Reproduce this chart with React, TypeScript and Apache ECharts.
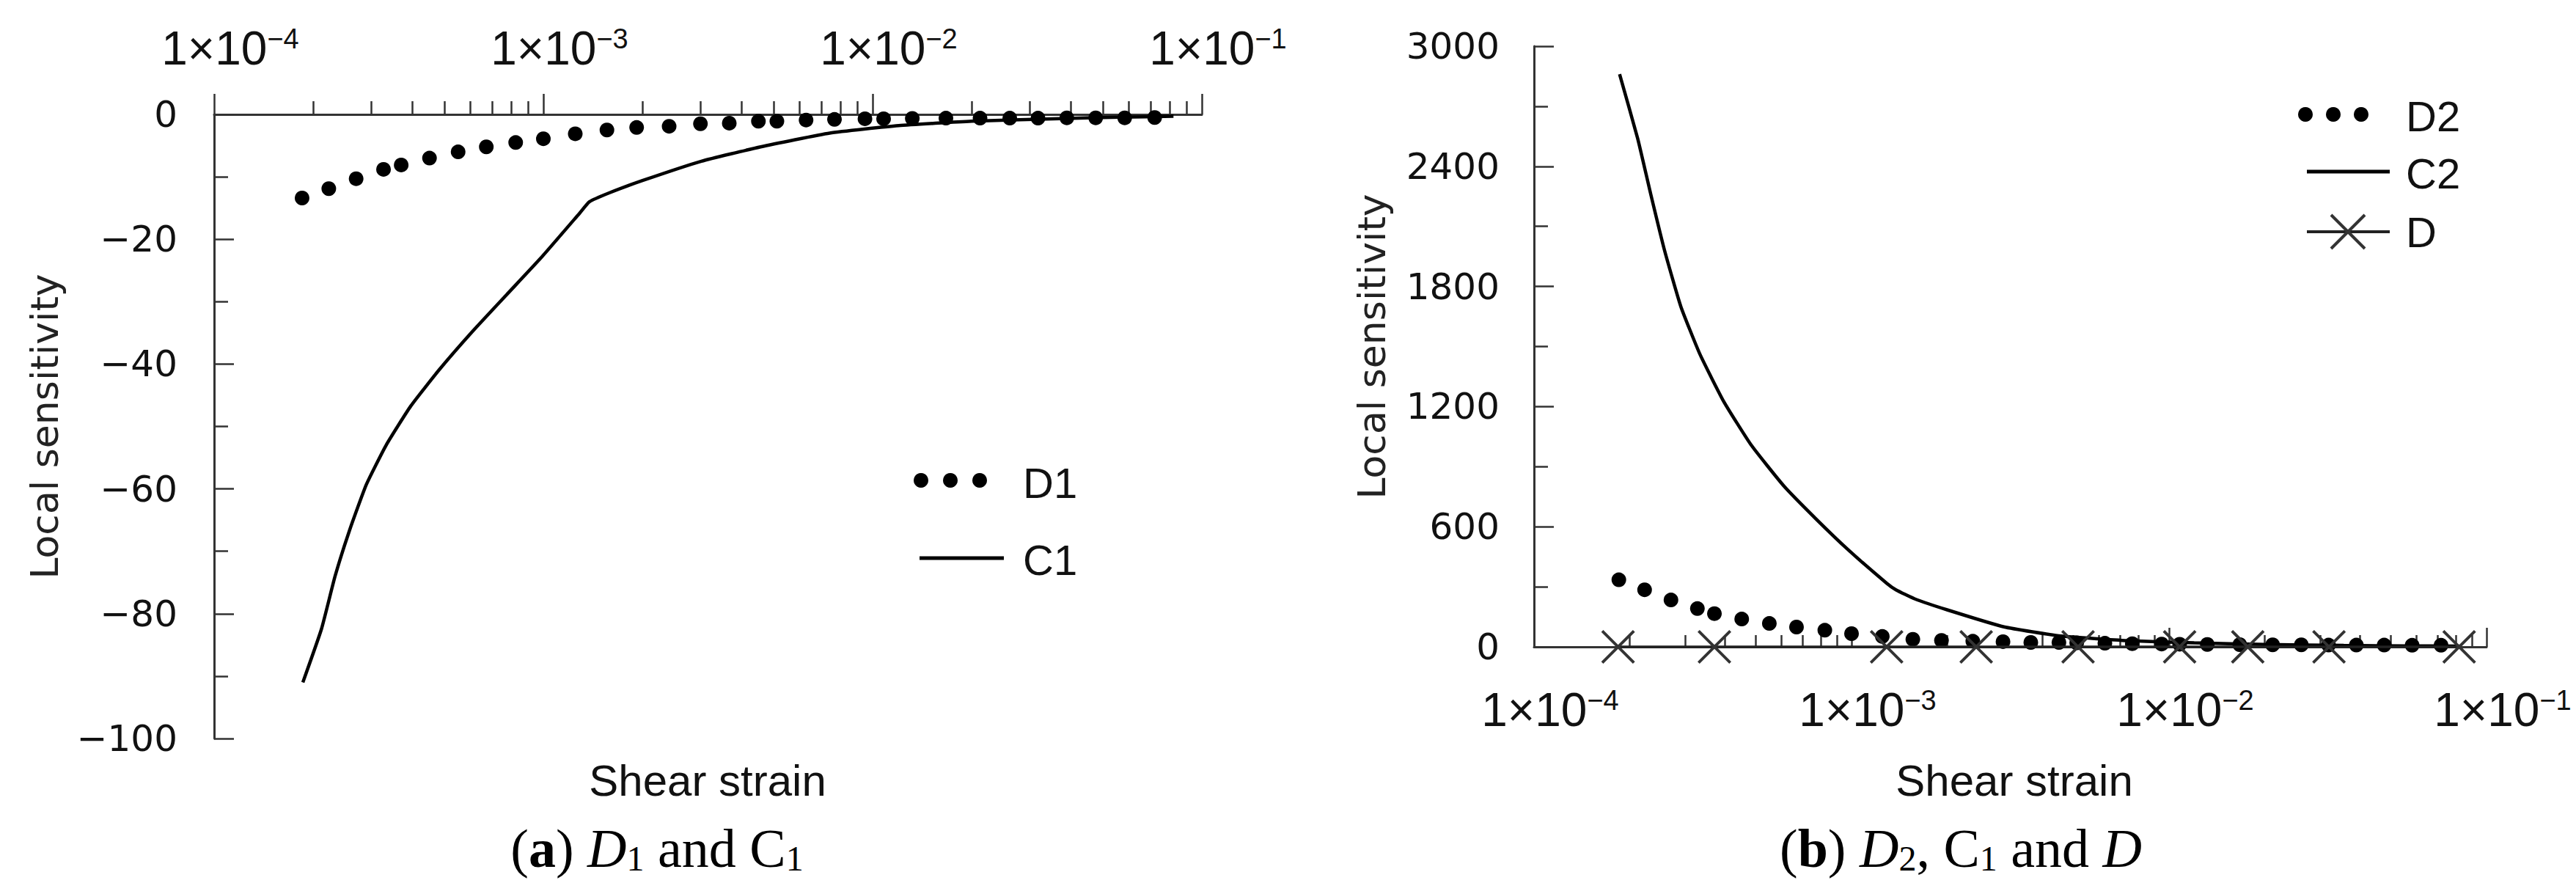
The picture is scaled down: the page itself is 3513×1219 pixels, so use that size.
import React, { useEffect, useRef } from "react";
import * as echarts from "echarts";

// shear strain of the sampled points (dots, same for D1 and D2)
const strainPoints = [
    1.85e-4, 2.23e-4, 2.7e-4, 3.27e-4, 3.7e-4, 4.51e-4, 5.51e-4, 6.71e-4, 8.24e-4, 1.0e-3,
    1.25e-3, 1.56e-3, 1.92e-3, 2.41e-3, 3.0e-3, 3.67e-3, 4.5e-3, 5.12e-3, 6.28e-3, 7.66e-3,
    9.48e-3, 1.08e-2, 1.32e-2, 1.67e-2, 2.12e-2, 2.61e-2, 3.18e-2, 3.89e-2, 4.76e-2, 5.83e-2,
    7.19e-2,
];
const d1Values = [
    -13.4, -11.9, -10.3, -8.8, -8.1, -7.0, -6.0, -5.2, -4.5, -3.9,
    -3.1, -2.5, -2.1, -1.9, -1.5, -1.4, -1.1, -1.1, -0.9, -0.8,
    -0.7, -0.7, -0.65, -0.6, -0.6, -0.6, -0.6, -0.55, -0.55, -0.55,
    -0.5,
];
const d2Values = [
    335, 285, 234, 191, 166, 139, 117, 99, 83, 66,
    52, 38, 32, 28, 26, 22, 22, 20, 18, 16,
    14, 13, 12, 11, 10, 10, 9, 9, 9, 8,
    8,
];

// shear strain along the solid curves
const lineStrain = [
    1.86e-4, 2.12e-4, 2.33e-4, 2.58e-4, 2.9e-4, 3.33e-4, 3.96e-4, 4.83e-4, 6.11e-4, 7.73e-4,
    9.79e-4, 1.29e-3, 1.38e-3, 1.58e-3, 2.0e-3, 3.02e-3, 4.57e-3, 7.41e-3, 1.2e-2, 2.0e-2,
    3.55e-2, 5.62e-2, 8.2e-2,
];
const c1Values = [
    -91.0, -82.4, -74.0, -66.6, -59.3, -53.0, -46.7, -40.9, -34.7, -28.9,
    -23.1, -15.8, -14.0, -12.6, -10.6, -7.5, -5.2, -3.0, -1.8, -1.1,
    -0.7, -0.45, -0.3,
];
const c2Values = [
    2860, 2540, 2263, 1977, 1700, 1462, 1225, 1008, 805, 639,
    483, 318, 285, 240, 185, 100, 54, 31, 20, 12,
    7, 5, 4,
];

// D (marked with crosses)
const dStrain = [1.84e-4, 3.7e-4, 1.29e-3, 2.47e-3, 5.17e-3, 1.08e-2, 1.77e-2, 3.19e-2, 8.2e-2];
const dValues = [0, 0, 0, 0, 0, 0, 0, 0, 0];

// axis ticks
const decades = [1e-4, 1e-3, 1e-2, 1e-1];
const minorSteps = [2, 3, 4, 5, 6, 7, 8, 9];
const leftYTicks = { min: -100, max: 0, interval: 20 };
const rightYTicks = { min: 0, max: 3000, interval: 600 };

const INK = "#111";
const AXIS = "#333";
const MINUS = "\u2212";
const X_SYMBOL =
    "path://M0,6L6,0L50,44L94,0L100,6L56,50L100,94L94,100L50,56L6,100L0,94L44,50Z";

const zip = (xs: number[], ys: number[]) => xs.map((x, i) => [x, ys[i]]);

const minorTicks: number[] = [];
decades.slice(0, -1).forEach((d) => minorSteps.forEach((m) => minorTicks.push(m * d)));

const expLabel = (v: number) =>
    `{pad| }1×10{sup|${MINUS}${Math.round(-Math.log10(v))}}`;
const signed = (v: number) => (v < 0 ? MINUS + Math.abs(v) : String(v));

const xLabel = (margin: number) => ({
    show: true,
    margin,
    formatter: expLabel,
    color: INK,
    fontFamily: "Liberation Sans",
    fontSize: 64,
    lineHeight: 64,
    rich: {
        pad: { width: 44, fontSize: 38, lineHeight: 38 },
        sup: {
            fontFamily: "Liberation Sans",
            fontSize: 38,
            lineHeight: 38,
            verticalAlign: "top",
            color: INK,
        },
    },
});

const majorX = (gridIndex: number, position: string, inside: boolean, len: number, margin: number) => ({
    type: "log",
    gridIndex,
    position,
    logBase: 10,
    min: decades[0],
    max: decades[decades.length - 1],
    axisLine: { show: true, onZero: false, lineStyle: { color: AXIS, width: 3 } },
    axisTick: { show: true, inside, length: len, lineStyle: { color: AXIS, width: 2.5 } },
    axisLabel: xLabel(margin),
    splitLine: { show: false },
});

const minorX = (gridIndex: number, position: string, inside: boolean, len: number) => ({
    type: "log",
    gridIndex,
    position,
    logBase: 10,
    min: decades[0],
    max: decades[decades.length - 1],
    axisLine: { show: false, onZero: false },
    axisTick: {
        show: true,
        inside,
        length: len,
        customValues: minorTicks,
        lineStyle: { color: AXIS, width: 2.5 },
    },
    axisLabel: { show: false },
    splitLine: { show: false },
});

const yAxisOf = (gridIndex: number, ticks: { min: number; max: number; interval: number }, margin: number, nameGap: number) => ({
    type: "value",
    gridIndex,
    min: ticks.min,
    max: ticks.max,
    interval: ticks.interval,
    name: "Local sensitivity",
    nameLocation: "middle",
    nameRotate: 90,
    nameGap,
    nameTextStyle: { fontFamily: "DejaVu Sans", fontSize: 52, color: "#222" },
    axisLine: { show: true, onZero: false, lineStyle: { color: AXIS, width: 3 } },
    axisTick: { show: true, inside: true, length: 27, lineStyle: { color: AXIS, width: 2.5 } },
    minorTick: { show: true, splitNumber: 2, length: 19, lineStyle: { color: AXIS, width: 2.5 } },
    axisLabel: {
        margin,
        formatter: signed,
        color: INK,
        fontFamily: "DejaVu Sans",
        fontSize: 50,
    },
    splitLine: { show: false },
});

const sansText = (x: number, y: number, text: string, size: number, align = "left") => ({
    type: "text",
    x,
    y,
    style: {
        text,
        fill: INK,
        fontFamily: "Liberation Sans",
        fontSize: size,
        align,
        verticalAlign: "middle",
    },
});

const captionRich = {
    b: { fontWeight: "bold", fontFamily: "Liberation Serif", fontSize: 74, lineHeight: 74, fill: "#000" },
    i: { fontStyle: "italic", fontFamily: "Liberation Serif", fontSize: 74, lineHeight: 74, fill: "#000" },
    s: { fontFamily: "Liberation Serif", fontSize: 48, lineHeight: 48, verticalAlign: "bottom", fill: "#000" },
};

const caption = (x: number, y: number, text: string) => ({
    type: "text",
    x,
    y,
    style: {
        text,
        rich: captionRich,
        fill: "#000",
        fontFamily: "Liberation Serif",
        fontSize: 74,
        lineHeight: 74,
        align: "center",
        verticalAlign: "middle",
    },
});

const dot = (cx: number, cy: number) => ({
    type: "circle",
    shape: { cx, cy, r: 10 },
    style: { fill: "#000" },
});

const seg = (x1: number, y1: number, x2: number, y2: number, w: number, color = "#000") => ({
    type: "line",
    shape: { x1, y1, x2, y2 },
    style: { stroke: color, lineWidth: w },
});

const App: React.FC = () => {
    const chartRef = useRef<HTMLDivElement>(null);

    useEffect(() => {
        if (!chartRef.current) return;
        const chart = echarts.init(chartRef.current, null, { renderer: "svg" });

        const option = {
            animation: false,
            backgroundColor: "#fff",
            grid: [
                { left: 292, top: 156, width: 1347, height: 851, outerBoundsMode: "none" },
                { left: 2092, top: 63, width: 1299, height: 819, outerBoundsMode: "none" },
            ],
            xAxis: [
                majorX(0, "top", false, 28, 58),
                minorX(0, "top", false, 18),
                majorX(1, "bottom", true, 26, 54),
                minorX(1, "bottom", true, 16),
            ],
            yAxis: [yAxisOf(0, leftYTicks, 50, 205), yAxisOf(1, rightYTicks, 47, 195)],
            series: [
                {
                    name: "C1",
                    type: "line",
                    xAxisIndex: 0,
                    yAxisIndex: 0,
                    data: zip(lineStrain, c1Values),
                    showSymbol: false,
                    smooth: 0.15,
                    clip: false,
                    lineStyle: { color: "#000", width: 4.5 },
                },
                {
                    name: "D1",
                    type: "scatter",
                    xAxisIndex: 0,
                    yAxisIndex: 0,
                    data: zip(strainPoints, d1Values),
                    symbolSize: 20,
                    clip: false,
                    itemStyle: { color: "#000", opacity: 1 },
                },
                {
                    name: "C2",
                    type: "line",
                    xAxisIndex: 2,
                    yAxisIndex: 1,
                    data: zip(lineStrain, c2Values),
                    showSymbol: false,
                    smooth: 0.15,
                    clip: false,
                    lineStyle: { color: "#000", width: 4.5 },
                },
                {
                    name: "D2",
                    type: "scatter",
                    xAxisIndex: 2,
                    yAxisIndex: 1,
                    data: zip(strainPoints, d2Values),
                    symbolSize: 20,
                    clip: false,
                    itemStyle: { color: "#000", opacity: 1 },
                },
                {
                    name: "D",
                    type: "line",
                    xAxisIndex: 2,
                    yAxisIndex: 1,
                    data: zip(dStrain, dValues),
                    symbol: X_SYMBOL,
                    symbolSize: 46,
                    showAllSymbol: true,
                    clip: false,
                    lineStyle: { color: "#222", width: 3.5 },
                    itemStyle: { color: "#333", opacity: 1 },
                },
            ],
            graphic: [
                sansText(965, 1064, "Shear strain", 60, "center"),
                sansText(2747, 1064, "Shear strain", 60, "center"),
                caption(896, 1157, "({b|a}) {i|D}{s|1} and C{s|1}"),
                caption(2674, 1157, "({b|b}) {i|D}{s|2}, C{s|1} and {i|D}"),
                // legend (a)
                dot(1256, 655),
                dot(1296, 655),
                dot(1336, 655),
                sansText(1395, 658, "D1", 58),
                seg(1254, 761, 1369, 761, 5),
                sansText(1395, 763, "C1", 58),
                // legend (b)
                dot(3144, 156),
                dot(3182, 156),
                dot(3220, 156),
                sansText(3281, 158, "D2", 58),
                seg(3146, 234, 3259, 234, 5),
                sansText(3281, 236, "C2", 58),
                seg(3146, 316, 3259, 316, 4, "#222"),
                seg(3179, 293, 3225, 339, 4, "#333"),
                seg(3179, 339, 3225, 293, 4, "#333"),
                sansText(3281, 316, "D", 58),
            ],
        };

        chart.setOption(option as any);

        return () => {
            chart.dispose();
        };
    }, []);

    return (
        <div
            ref={chartRef}
            style={{ position: "absolute", left: 0, top: 0, width: "3513px", height: "1219px", background: "#fff" }}
        />
    );
};

export default App;
